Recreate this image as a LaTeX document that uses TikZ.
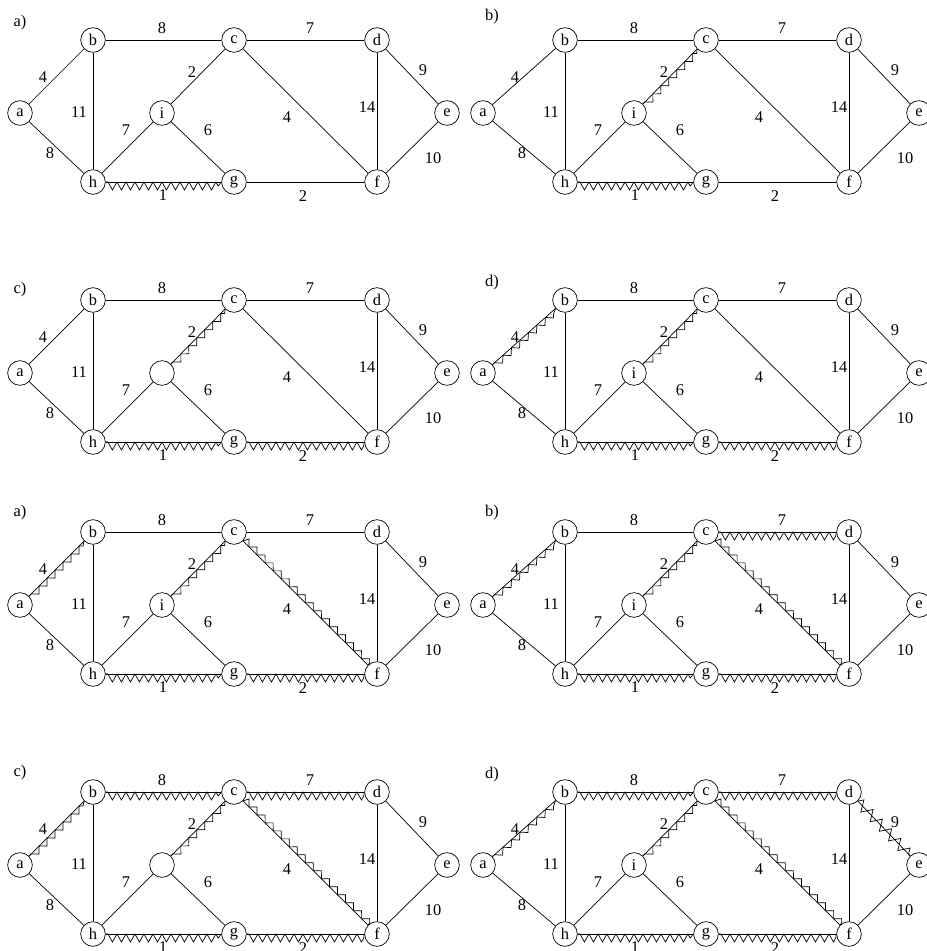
\documentclass[tikz,border=0pt]{standalone}
\usepackage{fontspec}
\setmainfont{Liberation Serif}
\usetikzlibrary{decorations.pathmorphing}

\begin{document}
\begin{tikzpicture}[x=0.03cm, y=-0.03cm, line width=0.6pt,
                    font=\fontsize{14}{16}\selectfont]
  \tikzset{
    vtx/.style={circle, draw=black, inner sep=0pt, minimum size=0.74cm},
    wgt/.style={inner sep=0pt},
    tag/.style={inner sep=0pt},
    hzig/.style={decorate, decoration={zigzag, segment length=0.27cm,
                 amplitude=0.12cm, raise=-0.12cm}},
    stairR/.style={decorate, decoration={zigzag, segment length=0.34cm,
                   amplitude=0.085cm, raise=-0.085cm}},
    stairL/.style={decorate, decoration={zigzag, segment length=0.34cm,
                   amplitude=0.085cm, raise=0.085cm}},
    bigzig/.style={decorate, decoration={zigzag, segment length=0.4cm,
                   amplitude=0.16cm}}
  }
  \useasboundingbox (0,0) rectangle (927,951);
  % Eight panels of the same graph
  \foreach \p/\px/\py/\lab/\ly/\il/\ax in {p1/0/0/a)/23/i/20,
      p2/472/0/b)/17/i/11, p3/0/260/c)/30/~/20, p4/472/260/d)/23/i/11,
      p5/0/492/a)/21/i/20, p6/472/492/b)/21/i/11, p7/0/752/c)/21/~/20,
      p8/472/752/d)/23/i/11} {
    \begin{scope}[shift={(\px,\py)}]
      \node[tag] (\p tag) at (20,\ly) {\lab};
      % Vertices
      \node[vtx] (\p a) at (\ax,113) {a};
      \node[vtx] (\p b) at (93,40)   {b};
      \node[vtx] (\p c) at (234,40)  {c};
      \node[vtx] (\p d) at (377,40)  {d};
      \node[vtx] (\p e) at (447,113) {e};
      \node[vtx] (\p f) at (377,182) {f};
      \node[vtx] (\p g) at (234,182) {g};
      \node[vtx] (\p h) at (93,182)  {h};
      \node[vtx] (\p i) at (162,113) {\il};
      % Edges
      \foreach \u/\v in {a/b,a/h,b/c,b/h,c/d,i/c,c/f,d/e,d/f,e/f,g/f,h/g,h/i,i/g}
        \draw (\p\u) -- (\p\v);
      % Weights
      \foreach \n/\x/\y/\w in {bc/162/28/8, cd/310/28/7, ab/43/77/4,
          bh/79/112/11, ah/50/153/8, ci/192/72/2, hi/126/130/7,
          ig/208/130/6, cf/287/117/4, df/367/107/14, de/423/70/9,
          ef/433/158/10, hg/163/195/1, gf/303/196/2}
        \node[wgt] (\p w\n) at (\x,\y) {\w};
    \end{scope}
  }
  % Tree edges
  \foreach \p/\u/\v in {p1/h/g, p2/h/g, p3/h/g, p3/g/f, p4/h/g, p4/g/f,
      p5/h/g, p5/g/f, p6/h/g, p6/g/f, p6/c/d, p7/h/g, p7/g/f, p7/c/d,
      p7/b/c, p8/h/g, p8/g/f, p8/c/d, p8/b/c}
    \draw[hzig] (\p\u) -- (\p\v);
  \foreach \p/\u/\v in {p2/i/c, p3/i/c, p4/i/c, p4/a/b, p5/i/c, p5/a/b,
      p6/i/c, p6/a/b, p7/i/c, p7/a/b, p8/i/c, p8/a/b}
    \draw[stairR] (\p\u) -- (\p\v);
  \foreach \p in {p5,p6,p7,p8}
    \draw[stairL] (\p c) -- (\p f);
  \draw[bigzig] (p8d) -- (p8e);
\end{tikzpicture}
\end{document}
